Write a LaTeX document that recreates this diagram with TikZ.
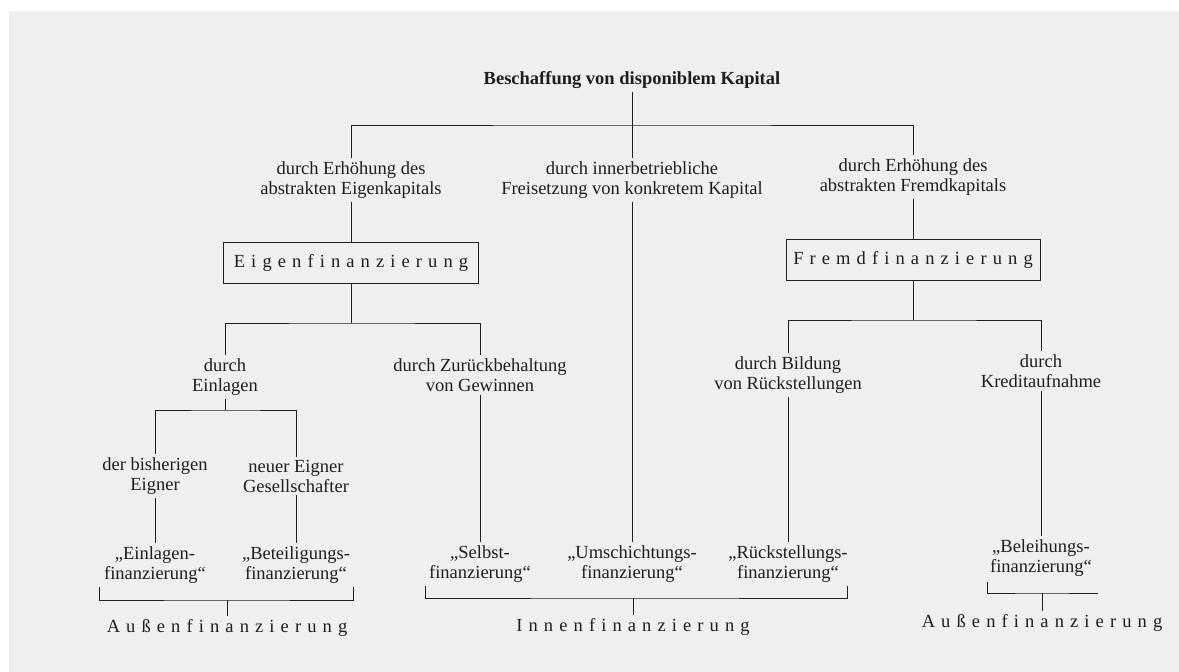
\documentclass[tikz,border=0pt]{standalone}
\usepackage{fontspec}
\setmainfont{Liberation Serif}
\newfontfamily\spacedfont[LetterSpace=33]{Liberation Serif}
\definecolor{bg}{RGB}{239,239,239}
\definecolor{ink}{RGB}{30,30,30}
\tikzset{
  txt/.style={font=\fontsize{18.5}{20}\selectfont, align=center, inner sep=3pt, text=ink},
  ttl/.style={font=\bfseries\fontsize{18.5}{20}\selectfont, inner sep=3pt, text=ink},
  spc/.style={font=\spacedfont\fontsize{18.5}{20}\selectfont, inner sep=3pt, text=ink},
  boxed/.style={draw=ink, line width=0.9pt, minimum height=41pt, inner sep=0pt},
  conn/.style={draw=ink, line width=0.9pt},
}
\begin{document}
\begin{tikzpicture}[x=1pt,y=-1pt]
\useasboundingbox (0,0) rectangle (1179,672);
\fill[bg] (9,11) rectangle (1179,672);

% texts
\node[ttl] (title) at (632,80) {Beschaffung von disponiblem Kapital};
\node[txt] (eigen) at (351,180) {durch Erhöhung des\\abstrakten Eigenkapitals};
\node[txt] (innen) at (632,180) {durch innerbetriebliche\\Freisetzung von konkretem Kapital};
\node[txt] (fremd) at (913,177) {durch Erhöhung des\\abstrakten Fremdkapitals};
\node[spc, boxed, minimum width=255pt] (eigenbox) at (351,262.5) {Eigenfinanzierung};
\node[spc, boxed, minimum width=254pt] (fremdbox) at (913,260) {Fremdfinanzierung};
\node[txt] (einlagen) at (225,377) {durch\\Einlagen};
\node[txt] (zurueck) at (480,375) {durch Zurückbehaltung\\von Gewinnen};
\node[txt] (bildung) at (788,375) {durch Bildung\\von Rückstellungen};
\node[txt] (kredit) at (1041,371) {durch\\Kreditaufnahme};
\node[txt] (bisher) at (155,476) {der bisherigen\\Eigner};
\node[txt] (neuer) at (296,476) {neuer Eigner\\Gesellschafter};
\node[txt] (einlagenfin) at (155,565) {„Einlagen-\\finanzierung“};
\node[txt] (beteil) at (296,565) {„Beteiligungs-\\finanzierung“};
\node[txt] (selbst) at (480,564) {„Selbst-\\finanzierung“};
\node[txt] (umsch) at (632,564) {„Umschichtungs-\\finanzierung“};
\node[txt] (rueckst) at (788,564) {„Rückstellungs-\\finanzierung“};
\node[txt] (beleih) at (1041,558) {„Beleihungs-\\finanzierung“};
\node[spc] (aussen1) at (227,628) {Außenfinanzierung};
\node[spc] (innenfin) at (633,627) {Innenfinanzierung};
\node[spc] (aussen2) at (1042,623) {Außenfinanzierung};

% junctions
\coordinate (j1) at (632,125);
\coordinate (j2) at (351,323);
\coordinate (j3) at (225,410);
\coordinate (j4) at (913,320);
\coordinate (b1l) at (99,587);
\coordinate (b1r) at (353,587);
\coordinate (b1m) at (227,600);
\coordinate (b2l) at (425,586);
\coordinate (b2r) at (847,586);
\coordinate (b2m) at (633,598);
\coordinate (b3l) at (987,582);
\coordinate (b3r) at (1098,593);
\coordinate (b3m) at (1042,593);

% connectors
\path[conn] (title) -- (j1);
\path[conn] (eigen.north) |- (j1) -| (fremd.north);
\path[conn] (j1) -- (innen.north);
\path[conn] (eigen) -- (eigenbox);
\path[conn] (fremd) -- (fremdbox);
\path[conn] (eigenbox.south) -- (j2);
\path[conn] (einlagen.north) |- (j2) -| (zurueck.north);
\path[conn] (einlagen.south) -- (j3);
\path[conn] (bisher.north) |- (j3) -| (neuer.north);
\path[conn] (bisher) -- (einlagenfin);
\path[conn] (neuer) -- (beteil);
\path[conn] (zurueck) -- (selbst);
\path[conn] (innen.south) -- (umsch.north);
\path[conn] (fremdbox.south) -- (j4);
\path[conn] (bildung.north) |- (j4) -| (kredit.north);
\path[conn] (bildung) -- (rueckst);
\path[conn] (kredit) -- (beleih);
% brackets
\path[conn] (b1l) |- (b1m) -| (b1r);
\path[conn] (b1m) -- (aussen1);
\path[conn] (b2l) |- (b2m) -| (b2r);
\path[conn] (b2m) -- (innenfin);
\path[conn] (b3l) |- (b3m) -- (b3r);
\path[conn] (b3m) -- (aussen2);
\end{tikzpicture}
\end{document}
